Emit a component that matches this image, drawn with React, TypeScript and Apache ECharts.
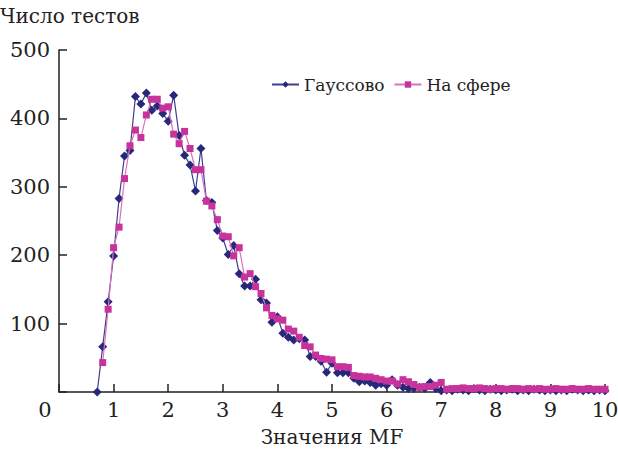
import React, { useEffect, useRef } from "react";
import * as echarts from "echarts";

const xValues = [
  0.7, 0.8, 0.9, 1.0, 1.1, 1.2, 1.3, 1.4, 1.5, 1.6, 1.7, 1.8, 1.9, 2.0, 2.1, 2.2, 2.3, 2.4, 2.5, 2.6,
  2.7, 2.8, 2.9, 3.0, 3.1, 3.2, 3.3, 3.4, 3.5, 3.6, 3.7, 3.8, 3.9, 4.0, 4.1, 4.2, 4.3, 4.4, 4.5, 4.6,
  4.7, 4.8, 4.9, 5.0, 5.1, 5.2, 5.3, 5.4, 5.5, 5.6, 5.7, 5.8, 5.9, 6.0, 6.1, 6.2, 6.3, 6.4, 6.5, 6.6,
  6.7, 6.8, 6.9, 7.0, 7.1, 7.2, 7.3, 7.4, 7.5, 7.6, 7.7, 7.8, 7.9, 8.0, 8.1, 8.2, 8.3, 8.4, 8.5, 8.6,
  8.7, 8.8, 8.9, 9.0, 9.1, 9.2, 9.3, 9.4, 9.5, 9.6, 9.7, 9.8, 9.9, 10.0,
];

const gaussValues = [
  0, 66, 132, 199, 283, 345, 353, 432, 421, 437, 412, 418, 407, 396, 434, 375, 346, 332, 294, 356,
  280, 277, 236, 225, 201, 214, 173, 155, 155, 165, 135, 130, 102, 110, 86, 80, 76, 78, 76, 52,
  52, 45, 29, 42, 28, 28, 28, 20, 15, 16, 14, 10, 12, 10, 18, 10, 7, 5, 5, 7,
  5, 14, 5, 2, 3, 2, 4, 3, 2, 5, 3, 2, 4, 3, 2, 3, 4, 2, 3, 2,
  4, 3, 2, 3, 2, 3, 2, 4, 3, 2, 3, 2, 3, 2,
];

const sphereValues = [
  null, 43, 121, 211, 241, 312, 360, 383, 372, 405, 428, 428, 415, 417, 377, 363, 381, 356, 325, 325,
  279, 272, 252, 228, 227, 199, 211, 168, 173, 154, 144, 123, 112, 107, 105, 92, 89, 80, 68, 66,
  54, 49, 48, 47, 37, 37, 36, 24, 23, 22, 22, 20, 18, 16, 16, 12, 18, 15, 11, 7,
  8, 8, 10, 14, 4, 5, 5, 6, 5, 5, 6, 5, 4, 5, 5, 4, 5, 5, 4, 5,
  4, 5, 4, 4, 5, 4, 4, 5, 4, 4, 5, 4, 4, 4,
];

const seriesNames = ["Гауссово", "На сфере"];
const yTitle = "Число тестов";
const xTitle = "Значения MF";

const FONT = "DejaVu Serif";

export default function App() {
  const ref = useRef<HTMLDivElement>(null);
  useEffect(() => {
    if (!ref.current) return;
    const chart = echarts.init(ref.current, null, { renderer: "svg" });
    const pairs = (ys: (number | null)[]) =>
      xValues.map((x, i) => [x, ys[i]]).filter((p) => p[1] !== null);
    chart.setOption({
      animation: false,
      backgroundColor: "#ffffff",
      textStyle: { fontFamily: FONT },
      grid: { left: 59, right: 13, top: 50, bottom: 62, outerBoundsMode: "none" },
      legend: {
        left: 266,
        top: 71,
        itemWidth: 27,
        itemHeight: 8,
        itemGap: 9,
        textStyle: { fontFamily: FONT, fontSize: 17, color: "#222" },
        data: seriesNames,
      },
      graphic: [
        {
          type: "text",
          left: 0,
          top: 6,
          style: { text: yTitle, fontFamily: FONT, fontSize: 20, fill: "#222" },
        },
      ],
      xAxis: {
        type: "value",
        min: 0,
        max: 10,
        interval: 1,
        name: xTitle,
        nameLocation: "middle",
        nameGap: 35,
        nameTextStyle: { fontFamily: FONT, fontSize: 20, color: "#222" },
        axisLine: { show: true, lineStyle: { color: "#222", width: 1.5 } },
        axisTick: { show: true, inside: true, length: 8, lineStyle: { color: "#222", width: 1.5 } },
        splitLine: { show: false },
        axisLabel: {
          fontFamily: FONT,
          fontSize: 21,
          color: "#222",
          margin: 7,
          formatter: (v: number) => (v === 0 ? "{z|0}" : String(v)),
          rich: { z: { fontFamily: FONT, fontSize: 21, color: "#222", padding: [0, 28, 0, 0] } },
        },
      },
      yAxis: {
        type: "value",
        min: 0,
        max: 500,
        interval: 100,
        axisLine: { show: true, lineStyle: { color: "#222", width: 1.5 } },
        axisTick: { show: true, inside: true, length: 8, lineStyle: { color: "#222", width: 1.5 } },
        splitLine: { show: false },
        axisLabel: {
          fontFamily: FONT,
          fontSize: 21,
          color: "#222",
          margin: 9,
          formatter: (v: number) => (v === 0 ? "" : String(v)),
        },
      },
      series: [
        {
          name: seriesNames[0],
          type: "line",
          data: pairs(gaussValues),
          symbol: "diamond",
          symbolSize: 9,
          itemStyle: { color: "#27287a" },
          lineStyle: { color: "#3d3d92", width: 1.2 },
          z: 2,
        },
        {
          name: seriesNames[1],
          type: "line",
          data: pairs(sphereValues),
          symbol: "rect",
          symbolSize: 7,
          itemStyle: { color: "#c8329c" },
          lineStyle: { color: "#dd70bd", width: 1.2 },
          z: 3,
        },
      ],
    });
    return () => chart.dispose();
  }, []);
  return <div ref={ref} style={{ width: 618, height: 454, position: "absolute", left: 0, top: 0 }} />;
}
